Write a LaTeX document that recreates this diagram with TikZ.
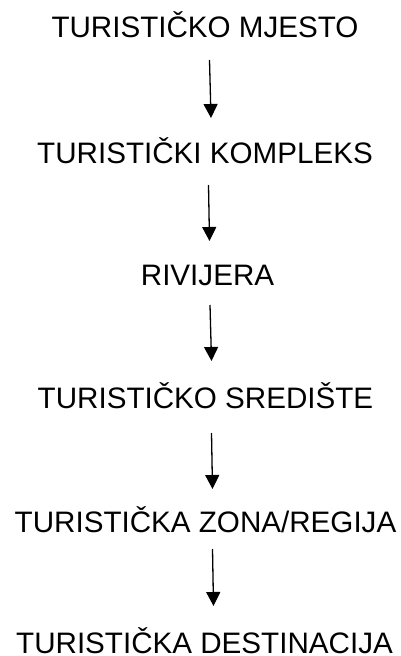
\documentclass[tikz,border=0pt]{standalone}
\usepackage{fontspec}
\setmainfont{Liberation Sans}
\usetikzlibrary{arrows.meta}
\begin{document}
\begin{tikzpicture}[x=1bp,y=-1bp,
  lbl/.style={anchor=base,inner sep=0pt,font=\fontsize{29.6bp}{32bp}\selectfont},
  arr/.style={line width=1.3bp,-{Triangle[width=14bp,length=14bp]}}]
\useasboundingbox (0,0) rectangle (400,656);
\node[lbl] (n1) at (205,38) {TURISTIČKO MJESTO};
\node[lbl] (n2) at (205,163) {TURISTIČKI KOMPLEKS};
\node[lbl] (n3) at (207.5,285) {RIVIJERA};
\node[lbl] (n4) at (205.5,408) {TURISTIČKO SREDIŠTE};
\node[lbl] (n5) at (205.5,532) {TURISTIČKA ZONA/REGIJA};
\node[lbl] (n6) at (204.5,653) {TURISTIČKA DESTINACIJA};
\coordinate (a1s) at (209.5,60);  \coordinate (a1e) at (211,118);
\coordinate (a2s) at (208.5,185); \coordinate (a2e) at (209.5,241);
\coordinate (a3s) at (210,305);   \coordinate (a3e) at (211.5,361);
\coordinate (a4s) at (211.5,433); \coordinate (a4e) at (212.5,489);
\coordinate (a5s) at (212.5,549); \coordinate (a5e) at (213.5,606);
\draw[arr] (a1s) -- (a1e);
\draw[arr] (a2s) -- (a2e);
\draw[arr] (a3s) -- (a3e);
\draw[arr] (a4s) -- (a4e);
\draw[arr] (a5s) -- (a5e);
\end{tikzpicture}
\end{document}
